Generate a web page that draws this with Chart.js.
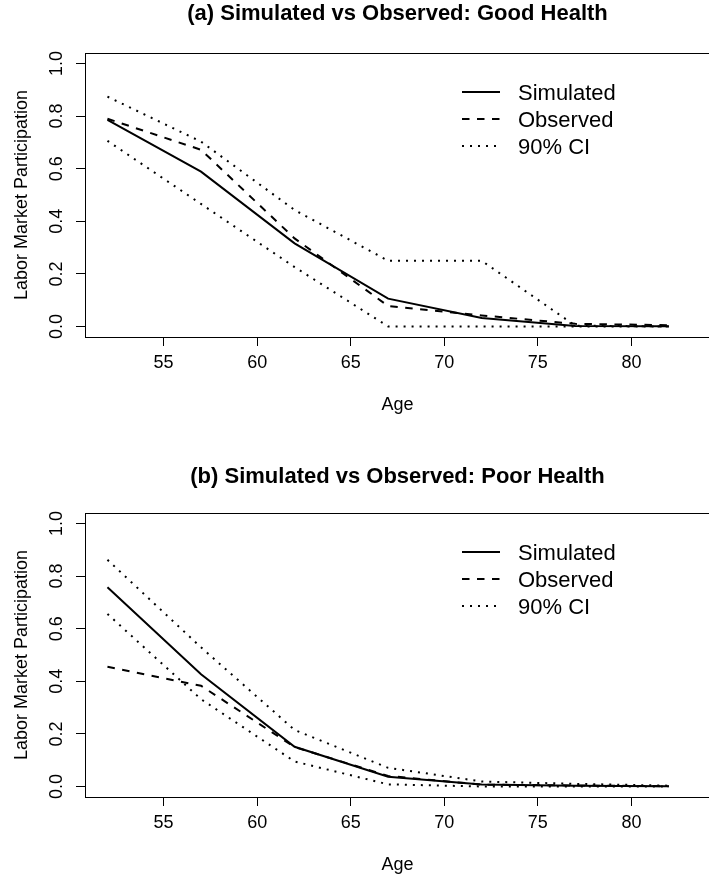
<!DOCTYPE html>
<html>
<head>
<meta charset="utf-8">
<script src="https://cdn.jsdelivr.net/npm/chart.js@4"></script>
<style>
  html, body { margin: 0; padding: 0; background: #fff; overflow: hidden; }
  .panel { width: 709px; height: 440px; overflow: hidden; }
  canvas { display: block; }
</style>
</head>
<body>
<div class="panel"><canvas id="goodChart" width="712" height="440"></canvas></div>
<div class="panel"><canvas id="poorChart" width="712" height="440"></canvas></div>
<script>
const ages = [52, 57, 62, 67, 72, 77, 82];
const xTicks = [55, 60, 65, 70, 75, 80];
const yTicks = [0, 0.2, 0.4, 0.6, 0.8, 1.0];

// (a) good health
const goodSimulated = [0.786, 0.589, 0.316, 0.106, 0.032, 0.002, 0.001];
const goodObserved  = [0.790, 0.672, 0.335, 0.078, 0.042, 0.010, 0.005];
const goodCiUpper   = [0.874, 0.703, 0.443, 0.250, 0.250, 0.003, 0.000];
const goodCiLower   = [0.706, 0.466, 0.226, 0.000, 0.000, 0.000, 0.000];

// (b) poor health
const poorSimulated = [0.758, 0.427, 0.151, 0.037, 0.008, 0.003, 0.001];
const poorObserved  = [0.455, 0.383, 0.150, 0.040, 0.007, 0.004, 0.001];
const poorCiUpper   = [0.862, 0.529, 0.215, 0.071, 0.019, 0.010, 0.003];
const poorCiLower   = [0.656, 0.332, 0.095, 0.008, 0.000, 0.000, 0.000];

const FONT = "'Liberation Sans', Arial, Helvetica, sans-serif";
Chart.defaults.font.family = FONT;
Chart.defaults.color = '#000';

function pts(vals) {
  return ages.map((a, i) => ({ x: a, y: vals[i] }));
}

// frame round the plot region, like R's box()
const plotBox = {
  id: 'plotBox',
  afterDraw(chart) {
    const { ctx, chartArea: a } = chart;
    ctx.save();
    ctx.strokeStyle = '#000';
    ctx.lineWidth = 1;
    ctx.strokeRect(a.left + 0.5, a.top + 0.5, a.right - a.left, a.bottom - a.top);
    ctx.restore();
  }
};

// legend inside the plot, one entry per label
const insideLegend = {
  id: 'insideLegend',
  afterDatasetsDraw(chart) {
    const { ctx, chartArea: a } = chart;
    const seen = new Set();
    let row = 0;
    ctx.save();
    chart.data.datasets.forEach(ds => {
      if (seen.has(ds.label)) return;
      seen.add(ds.label);
      const base = a.top + 47 + row * 27;
      ctx.strokeStyle = ds.borderColor;
      ctx.lineWidth = ds.borderWidth;
      ctx.setLineDash(ds.borderDash || []);
      ctx.beginPath();
      ctx.moveTo(a.left + 377, base - 8);
      ctx.lineTo(a.left + 415, base - 8);
      ctx.stroke();
      ctx.setLineDash([]);
      ctx.fillStyle = '#000';
      ctx.font = '22px ' + FONT;
      ctx.textBaseline = 'alphabetic';
      ctx.textAlign = 'left';
      ctx.fillText(ds.label, a.left + 433, base);
      row++;
    });
    ctx.restore();
  }
};

function makeChart(id, title, sim, obs, up, lo, titlePad, xHeight, agePad) {
  const line = (label, vals, dash) => ({
    label: label,
    data: pts(vals),
    borderColor: '#000',
    borderWidth: 2,
    borderDash: dash,
    pointRadius: 0,
    fill: false,
    tension: 0
  });
  return new Chart(document.getElementById(id), {
    type: 'line',
    data: {
      datasets: [
        line('Simulated', sim, []),
        line('Observed', obs, [7.5, 7.5]),
        line('90% CI', up, [2, 6]),
        line('90% CI', lo, [2, 6])
      ]
    },
    options: {
      responsive: false,
      animation: false,
      layout: { padding: { left: 0, right: 2, top: 0, bottom: 0 }, autoPadding: false },
      plugins: {
        legend: { display: false },
        tooltip: { enabled: false },
        title: {
          display: true,
          text: title,
          fullSize: false,
          font: { size: 22, weight: 'bold' },
          padding: titlePad
        }
      },
      scales: {
        x: {
          type: 'linear',
          min: 50.8,
          max: 84.2,
          afterBuildTicks: s => { s.ticks = xTicks.map(v => ({ value: v })); },
          afterFit: s => { s.height = xHeight; },
          ticks: { font: { size: 18 }, padding: 6, callback: v => String(v) },
          grid: { drawOnChartArea: false, tickLength: 9, tickColor: '#000', tickWidth: 1 },
          border: { display: false },
          title: { display: true, text: 'Age', font: { size: 18 }, padding: { top: 0, bottom: agePad } }
        },
        y: {
          min: -0.04,
          max: 1.04,
          afterBuildTicks: s => { s.ticks = yTicks.map(v => ({ value: v })); },
          afterFit: s => { s.width = 85; },
          ticks: { font: { size: 18 }, padding: 6, minRotation: 90, maxRotation: 90, crossAlign: 'center', callback: v => v.toFixed(1) },
          grid: { drawOnChartArea: false, tickLength: 9, tickColor: '#000', tickWidth: 1 },
          border: { display: false },
          title: { display: true, text: 'Labor Market Participation', font: { size: 18 }, padding: { top: 11, bottom: 0 } }
        }
      }
    },
    plugins: [plotBox, insideLegend]
  });
}

makeChart('goodChart', '(a) Simulated vs Observed: Good Health',
  goodSimulated, goodObserved, goodCiUpper, goodCiLower,
  { top: 1, bottom: 25.6 }, 103, 24);

makeChart('poorChart', '(b) Simulated vs Observed: Poor Health',
  poorSimulated, poorObserved, poorCiUpper, poorCiLower,
  { top: 23.8, bottom: 22.8 }, 83, 4.2);
</script>
</body>
</html>
